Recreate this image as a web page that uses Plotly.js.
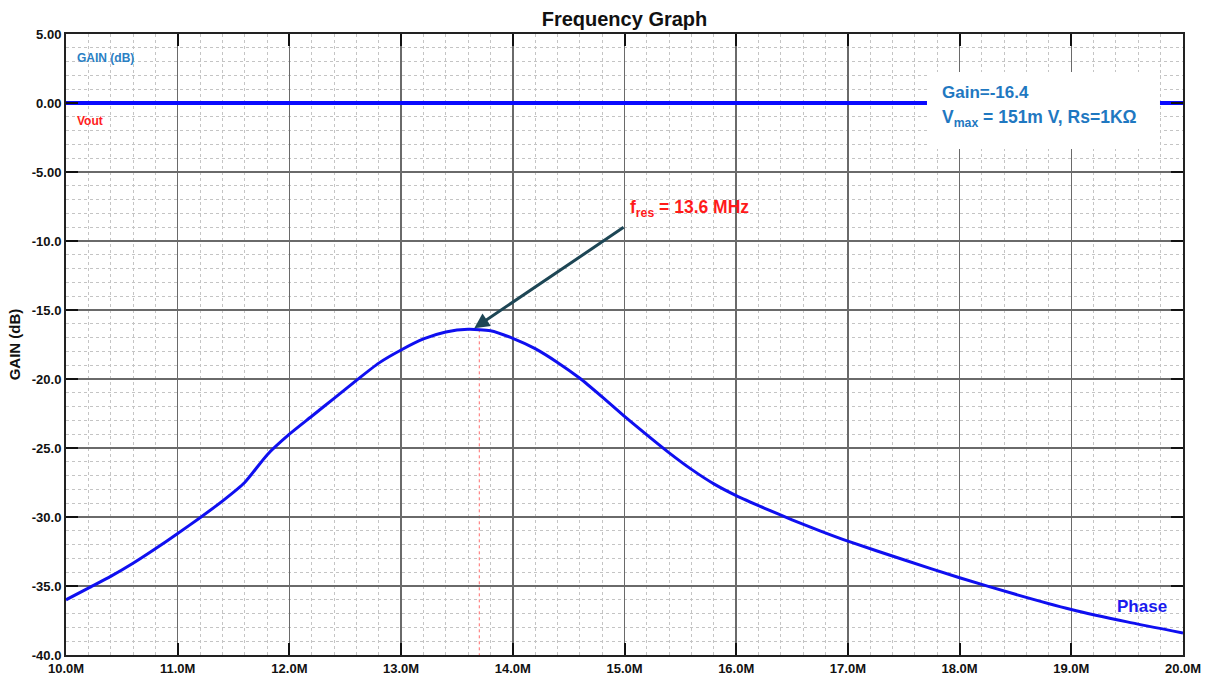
<!DOCTYPE html>
<html>
<head>
<meta charset="utf-8">
<script src="https://cdn.plot.ly/plotly-3.0.1.min.js"></script>
<style>html,body{margin:0;padding:0;background:#fff;}#chart{width:1216px;height:682px;}</style>
</head>
<body>
<div id="chart"></div>
<script>
// Frequency in MHz
var freqMHz = [10.0, 10.2, 10.4, 10.6, 10.8, 11.0, 11.2, 11.4, 11.6, 11.8, 12.0, 12.2, 12.4, 12.6, 12.8, 13.0, 13.2, 13.4, 13.6, 13.8, 14.0, 14.2, 14.4, 14.6, 14.8, 15.0, 15.2, 15.4, 15.6, 15.8, 16.0, 16.25, 16.5, 16.75, 17.0, 17.5, 18.0, 18.5, 19.0, 19.5, 20.0];
// Gain in dB (Phase trace)
var gainDb = [-36.0, -35.15, -34.3, -33.35, -32.3, -31.2, -30.05, -28.85, -27.5, -25.5, -24.0, -22.7, -21.4, -20.1, -18.85, -17.9, -17.1, -16.6, -16.4, -16.5, -17.05, -17.8, -18.8, -19.95, -21.3, -22.7, -24.05, -25.35, -26.55, -27.6, -28.45, -29.35, -30.2, -31.0, -31.75, -33.1, -34.4, -35.6, -36.7, -37.6, -38.4];
// Vout reference line (0 dB)
var voutFreq = [10.0, 20.0];
var voutDb = [0, 0];

var xTickVals = [10, 11, 12, 13, 14, 15, 16, 17, 18, 19, 20];
var xTickText = ["10.0M", "11.0M", "12.0M", "13.0M", "14.0M", "15.0M", "16.0M", "17.0M", "18.0M", "19.0M", "20.0M"];
var yTickVals = [5, 0, -5, -10, -15, -20, -25, -30, -35, -40];
var yTickText = ["5.00", "0.00", "-5.00", "-10.0", "-15.0", "-20.0", "-25.0", "-30.0", "-35.0", "-40.0"];

var fresMHz = 13.6;
var fresMarkerMHz = 13.7;
var peakGainDb = -16.4;

var FONT = "Liberation Sans, Arial, Helvetica, sans-serif";
var BOX_BLUE = "#1f78c1";

var traces = [
  {x: voutFreq, y: voutDb, mode: "lines", name: "Vout", line: {color: "#0a0aff", width: 4}, hoverinfo: "skip"},
  {x: freqMHz, y: gainDb, mode: "lines", name: "Phase", line: {color: "#0f0ff0", width: 3, shape: "spline", smoothing: 0.6}}
];

var axisCommon = {
  showline: true, linewidth: 2, linecolor: "#222",
  mirror: "ticks", ticks: "inside", ticklen: 12, tickwidth: 2, tickcolor: "#111",
  showgrid: true, gridcolor: "#6a6a6a", gridwidth: 1.5,
  zeroline: false,
  tickfont: {family: FONT, size: 13, color: "#111", weight: "bold"}
};

var layout = {
  width: 1216, height: 682,
  margin: {l: 66, r: 33, t: 34, b: 27},
  paper_bgcolor: "#fff", plot_bgcolor: "#fff",
  showlegend: false,
  title: {text: "Frequency Graph", font: {family: FONT, size: 20, color: "#111", weight: "bold"},
          x: 0.5, xref: "paper", xanchor: "center", y: 0.972, yref: "container", yanchor: "middle"},
  xaxis: Object.assign({}, axisCommon, {
    range: [10, 20], tickmode: "array", tickvals: xTickVals, ticktext: xTickText,
    minor: {dtick: 0.2, showgrid: true, gridcolor: "#c4c4c4", griddash: "dot", gridwidth: 1, ticks: ""}
  }),
  yaxis: Object.assign({}, axisCommon, {
    range: [-40, 5], tickmode: "array", tickvals: yTickVals, ticktext: yTickText,
    minor: {dtick: 1, showgrid: true, gridcolor: "#c4c4c4", griddash: "dot", gridwidth: 1, ticks: ""},
    title: {text: "GAIN (dB)", font: {family: FONT, size: 15, color: "#111", weight: "bold"}, standoff: 8}
  }),
  shapes: [
    {type: "line", xref: "x", yref: "y", x0: fresMarkerMHz, x1: fresMarkerMHz, y0: peakGainDb, y1: -40,
     line: {color: "#ff6a6a", width: 1, dash: "dot"}, layer: "below"},
    {type: "rect", xref: "paper", yref: "paper", x0: 0.7708, x1: 0.9794, y0: 0.8148, y1: 0.9388,
     fillcolor: "#ffffff", line: {width: 0}, layer: "above"}
  ],
  annotations: [
    {xref: "paper", yref: "paper", x: 0.0080, y: 0.9610, xanchor: "left", yanchor: "middle", showarrow: false,
     text: "GAIN (dB)", font: {family: FONT, size: 12, color: "#2a80c4", weight: "bold"}},
    {xref: "paper", yref: "paper", x: 0.0080, y: 0.8599, xanchor: "left", yanchor: "middle", showarrow: false,
     text: "Vout", font: {family: FONT, size: 12, color: "#ff2020", weight: "bold"}},
    {xref: "paper", yref: "paper", x: 0.7825, y: 0.9066, xanchor: "left", yanchor: "middle", showarrow: false,
     text: "Gain=-16.4", font: {family: FONT, size: 17, color: BOX_BLUE, weight: "bold"}},
    {xref: "paper", yref: "paper", x: 0.7825, y: 0.8636, xanchor: "left", yanchor: "middle", showarrow: false,
     text: "V<sub>max</sub> = 151m V, Rs=1KΩ", font: {family: FONT, size: 17.5, color: BOX_BLUE, weight: "bold"}},
    {xref: "x", yref: "y", x: fresMHz + 0.04, y: peakGainDb, ax: 154, ay: -104, axref: "pixel", ayref: "pixel",
     showarrow: true, arrowhead: 2, arrowsize: 1, arrowwidth: 3, arrowcolor: "#1d4655", standoff: 2, text: " "},
    {xref: "paper", yref: "paper", x: 0.5032, y: 0.7182, xanchor: "left", yanchor: "middle", showarrow: false,
     text: "f<sub>res</sub> = 13.6 MHz", font: {family: FONT, size: 17.5, color: "#ff1a1a", weight: "bold"}},
    {xref: "paper", yref: "paper", x: 0.9390, y: 0.0789, xanchor: "left", yanchor: "middle", showarrow: false,
     text: "Phase", font: {family: FONT, size: 17, color: "#1a1aee", weight: "bold"}}
  ]
};

Plotly.newPlot("chart", traces, layout, {displayModeBar: false, staticPlot: true});
</script>
</body>
</html>
